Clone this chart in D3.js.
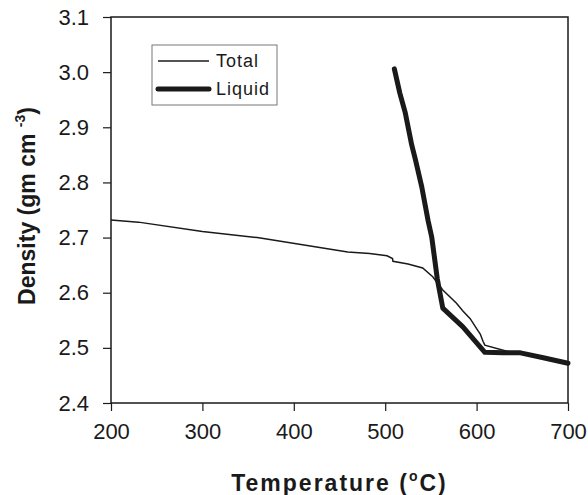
<!DOCTYPE html>
<html lang="en">
<head>
    <meta charset="UTF-8">
    <title>Density vs Temperature</title>
    <style>
        body {
            margin: 0;
            padding: 0;
            background-color: #fff;
        }
        svg {
            display: block;
            font-family: 'Liberation Sans', Arial, sans-serif;
        }
        .tick-label {
            font-size: 22px;
            fill: #1a1a1a;
        }
        .axis-title {
            font-size: 23px;
            font-weight: bold;
            fill: #1a1a1a;
        }
        .legend-text {
            font-size: 18px;
            letter-spacing: 1px;
            fill: #1a1a1a;
        }
    </style>
</head>
<body>
    <div id="chart"></div>

    <script src="https://cdnjs.cloudflare.com/ajax/libs/d3/7.8.5/d3.min.js"></script>
    <script>
        // tick values
        const xTicks = [200, 300, 400, 500, 600, 700];
        const yTicks = [2.4, 2.5, 2.6, 2.7, 2.8, 2.9, 3.0, 3.1];

        // Total density (thin line)
        const totalTemp = [200, 230, 300, 360, 459, 483, 502, 508, 508.5, 525, 541, 552, 563, 578, 585, 593, 600, 604, 607, 609, 633, 673, 700];
        const totalDensity = [2.732, 2.728, 2.711, 2.700, 2.674, 2.671, 2.667, 2.662, 2.657, 2.652, 2.645, 2.629, 2.605, 2.581, 2.567, 2.553, 2.535, 2.525, 2.512, 2.505, 2.494, 2.482, 2.472];

        // Liquid density (thick line)
        const liquidTemp = [510, 516, 522, 529, 533, 540, 547, 551, 557, 563, 585, 609, 629, 648, 673, 700];
        const liquidDensity = [3.006, 2.962, 2.926, 2.868, 2.842, 2.792, 2.730, 2.700, 2.625, 2.572, 2.538, 2.492, 2.491, 2.491, 2.482, 2.472];

        const width = 588;
        const height = 495;
        const margin = { top: 17, right: 20, bottom: 92, left: 111 };

        const svg = d3.select('#chart')
            .append('svg')
            .attr('width', width)
            .attr('height', height);

        const x = d3.scaleLinear()
            .domain([200, 700])
            .range([margin.left, width - margin.right]);

        const y = d3.scaleLinear()
            .domain([2.4, 3.1])
            .range([height - margin.bottom, margin.top]);

        // frame
        svg.append('rect')
            .attr('x', x(200))
            .attr('y', y(3.1))
            .attr('width', x(700) - x(200))
            .attr('height', y(2.4) - y(3.1))
            .attr('fill', 'none')
            .attr('stroke', '#1a1a1a')
            .attr('stroke-width', 1.5);

        // x axis
        const xAxis = svg.append('g')
            .attr('transform', `translate(0, ${y(2.4)})`)
            .call(d3.axisBottom(x).tickValues(xTicks).tickSize(8).tickPadding(12).tickFormat(d3.format('d')));
        xAxis.select('.domain').remove();
        xAxis.selectAll('line').attr('stroke', '#1a1a1a').attr('stroke-width', 1.2);
        xAxis.selectAll('text').attr('class', 'tick-label').attr('font-size', null).attr('font-family', null);

        // y axis
        const yAxis = svg.append('g')
            .attr('transform', `translate(${x(200)}, 0)`)
            .call(d3.axisLeft(y).tickValues(yTicks).tickSize(8).tickPadding(14).tickFormat(d3.format('.1f')));
        yAxis.select('.domain').remove();
        yAxis.selectAll('line').attr('stroke', '#1a1a1a').attr('stroke-width', 1.2);
        yAxis.selectAll('text').attr('class', 'tick-label').attr('font-size', null).attr('font-family', null);

        // lines
        const line = d3.line()
            .x(d => x(d[0]))
            .y(d => y(d[1]));

        svg.append('path')
            .datum(d3.zip(totalTemp, totalDensity))
            .attr('fill', 'none')
            .attr('stroke', '#1a1a1a')
            .attr('stroke-width', 1.5)
            .attr('d', line);

        svg.append('path')
            .datum(d3.zip(liquidTemp, liquidDensity))
            .attr('fill', 'none')
            .attr('stroke', '#1a1a1a')
            .attr('stroke-width', 5)
            .attr('stroke-linecap', 'round')
            .attr('stroke-linejoin', 'round')
            .attr('d', line);

        // legend
        const legend = svg.append('g');
        legend.append('rect')
            .attr('x', 152).attr('y', 45)
            .attr('width', 125).attr('height', 60)
            .attr('fill', '#fff')
            .attr('stroke', '#777')
            .attr('stroke-width', 1);
        legend.append('line')
            .attr('x1', 158).attr('x2', 209).attr('y1', 61).attr('y2', 61)
            .attr('stroke', '#1a1a1a').attr('stroke-width', 1.5);
        legend.append('line')
            .attr('x1', 158).attr('x2', 209).attr('y1', 89).attr('y2', 89)
            .attr('stroke', '#1a1a1a').attr('stroke-width', 5)
            .attr('stroke-linecap', 'round');
        legend.append('text')
            .attr('class', 'legend-text')
            .attr('x', 216).attr('y', 67)
            .text('Total');
        legend.append('text')
            .attr('class', 'legend-text')
            .attr('x', 216).attr('y', 95)
            .text('Liquid');

        // x axis title
        const xt = svg.append('text')
            .attr('class', 'axis-title')
            .attr('x', (x(200) + x(700)) / 2)
            .attr('y', 491)
            .attr('text-anchor', 'middle')
            .style('letter-spacing', '2px');
        xt.append('tspan').text('Temperature (');
        xt.append('tspan').attr('font-size', '14px').attr('dy', -10).text('o');
        xt.append('tspan').attr('dy', 10).text('C)');

        // y axis title
        const yt = svg.append('text')
            .attr('class', 'axis-title')
            .attr('transform', `translate(35, 206) rotate(-90)`)
            .attr('text-anchor', 'middle');
        yt.append('tspan').text('Density (gm cm ');
        yt.append('tspan').attr('font-size', '14px').attr('dy', -10).text('-3');
        yt.append('tspan').attr('dy', 10).text(')');
    </script>
</body>
</html>
